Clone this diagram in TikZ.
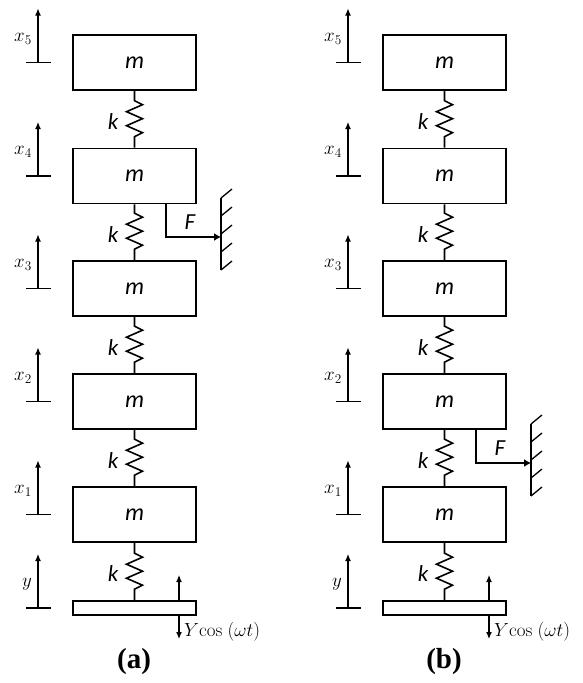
\RequirePackage{fix-cm}
\documentclass[tikz,border=0pt]{standalone}
\usepackage{fontspec}
\usetikzlibrary{arrows.meta}
\newfontfamily\carlito{Carlito}
\newfontfamily\timesf{Liberation Serif}
\begin{document}
\begin{tikzpicture}[x=1pt,y=-1pt,
  massbox/.style={draw,line width=1.6pt,minimum width=123pt,minimum height=55pt,inner sep=0pt,font=\carlito\itshape\fontsize{24}{24}\selectfont},
  basebox/.style={draw,line width=1.6pt,minimum width=123pt,minimum height=14pt,inner sep=0pt},
  springline/.style={line width=1.6pt,line join=miter,to path={-- ++(0,-11) -- ++(8,-4) -- ++(-16,-7) -- ++(16,-7) -- ++(-16,-7) -- ++(16,-7) -- ++(-8,-4) -- (\tikztotarget)}},
  klabel/.style={font=\carlito\itshape\fontsize{23}{23}\selectfont,inner sep=0pt},
  dispar/.style={line width=1.2pt,-{Latex[length=7pt,width=6pt]}},
  dispbase/.style={line width=1.2pt},
  displabel/.style={anchor=east,inner sep=0pt,font=\fontsize{19}{19}\selectfont},
  forcear/.style={line width=1.3pt,-{Latex[length=7pt,width=8pt]}},
  wall/.style={line width=1.3pt},
  caplabel/.style={font=\timesf\bfseries\fontsize{29}{29}\selectfont,inner sep=0pt}
]
\useasboundingbox (0,0) rectangle (583,683);
\foreach \side/\dx in {a/0,b/310}{
  \begin{scope}[xshift=\dx pt]
  % masses
  \node[massbox] (\side5) at (134.5,62.5) {m};
  \node[massbox] (\side4) at (134.5,176) {m};
  \node[massbox] (\side3) at (134.5,288.5) {m};
  \node[massbox] (\side2) at (134.5,401.5) {m};
  \node[massbox] (\side1) at (134.5,514.5) {m};
  \node[basebox] (\side0) at (134.5,608) {};
  % springs (drawn upward from lower body)
  \draw[springline] (\side4.north) to (\side5.south);
  \draw[springline] (\side3.north) to (\side4.south);
  \draw[springline] (\side2.north) to (\side3.south);
  \draw[springline] (\side1.north) to (\side2.south);
  \draw[springline] (\side0.north) to (\side1.south);
  \node[klabel] (\side k5) at (113,122) {k};
  \node[klabel] (\side k4) at (113,235) {k};
  \node[klabel] (\side k3) at (113,348) {k};
  \node[klabel] (\side k2) at (113,461) {k};
  \node[klabel] (\side k1) at (113,574) {k};
  % displacement indicators
  \foreach \i/\yy/\lab in {5/62.5/$x_5$,4/176/$x_4$,3/288.5/$x_3$,2/401.5/$x_2$,1/514.5/$x_1$,0/608/$y$}{
    \coordinate (\side d\i) at (38,\yy);
    \draw[dispbase] (26,\yy) -- (51,\yy);
    \draw[dispar] (\side d\i) -- ++(0,-54);
    \node[displabel] (\side l\i) at (32,\yy-24) {\lab};
  }
  % base excitation
  \coordinate (\side yu) at (179,575);
  \coordinate (\side yd) at (179,639);
  \draw[dispar] (\side0.north -| \side yu) -- (\side yu);
  \draw[dispar] (\side0.south -| \side yd) -- (\side yd);
  \node[anchor=west,inner sep=0pt,font=\fontsize{19}{19}\selectfont] (\side ytext) at (184,632) {$Y\mathrm{cos}\;(\omega t)$};
  \end{scope}
}
% force and wall (a)
\coordinate (fa) at (166,237);
\coordinate (wa) at (221,237);
\draw[forcear] (a4.south -| fa) -- (fa) -- (wa);
\node[klabel] (Fa) at (190,222) {F};
\draw[wall] (221,198) -- (221,270);
\foreach \yy in {198,216,234,252,270} \draw[wall] (221,\yy) -- ++(11,-9);
% force and wall (b)
\coordinate (fb) at (476,463);
\coordinate (wb) at (531,463);
\draw[forcear] (b2.south -| fb) -- (fb) -- (wb);
\node[klabel] (Fb) at (500,448) {F};
\draw[wall] (531,424) -- (531,496);
\foreach \yy in {424,442,460,478,496} \draw[wall] (531,\yy) -- ++(11,-9);
% captions
\node[caplabel] (capa) at (134,662) {(a)};
\node[caplabel] (capb) at (444,662) {(b)};
\end{tikzpicture}
\end{document}
